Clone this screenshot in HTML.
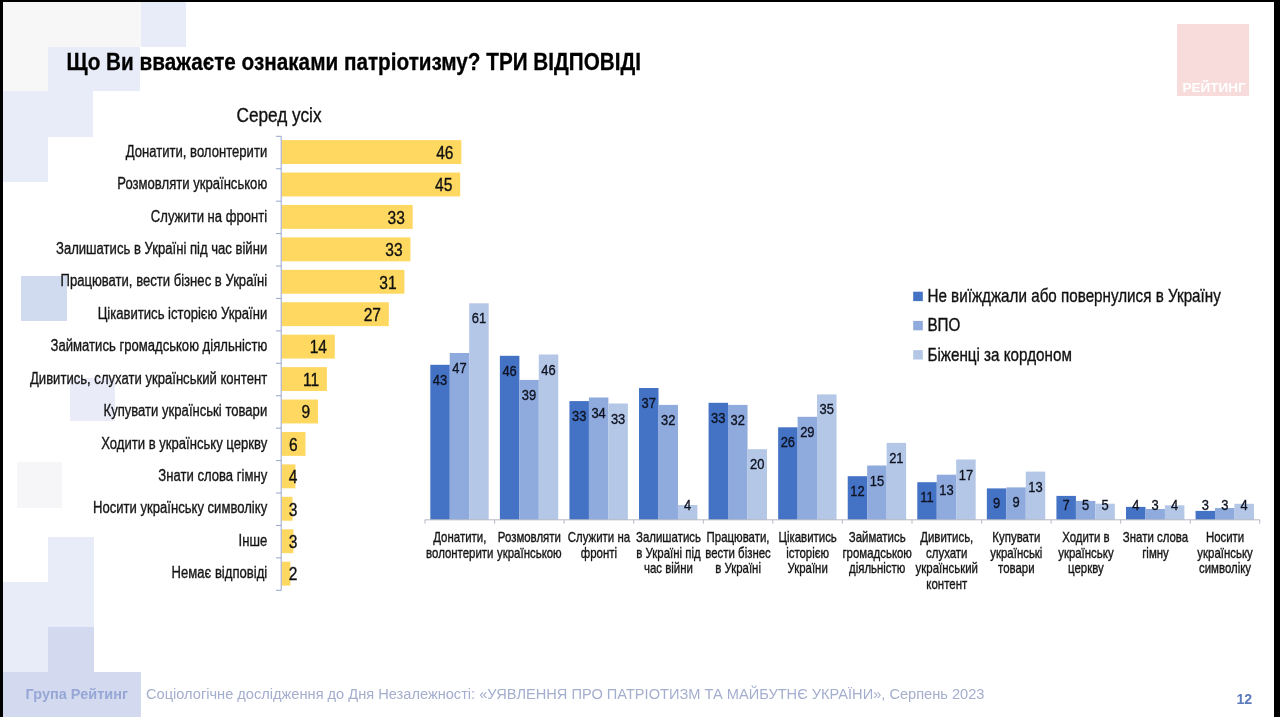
<!DOCTYPE html>
<html lang="uk"><head><meta charset="utf-8"><title>Що Ви вважаєте ознаками патріотизму?</title>
<style>html,body{margin:0;padding:0;background:#fff;}body{width:1280px;height:717px;overflow:hidden;}svg{display:block;font-family:"Liberation Sans",sans-serif;will-change:transform;}</style></head><body>
<svg width="1280" height="717" viewBox="0 0 1280 717">
<rect x="0" y="0" width="1280" height="717" fill="#ffffff"/>
<g shape-rendering="crispEdges">
<rect x="3" y="2" width="137.5" height="45" fill="#f7f7f8"/>
<rect x="3" y="47" width="45" height="44" fill="#f7f7f8"/>
<rect x="140.5" y="2" width="45" height="45" fill="#e8ecf8"/>
<rect x="48" y="47" width="92" height="44" fill="#e8ecf8"/>
<rect x="3" y="91" width="90" height="46" fill="#e8ecf8"/>
<rect x="3" y="137" width="45" height="45" fill="#e8ecf8"/>
<rect x="21" y="276" width="46" height="45" fill="#d0dbf0"/>
<rect x="70" y="378" width="45" height="43" fill="#e9ecf8"/>
<rect x="17" y="462" width="45" height="46" fill="#f6f5f8"/>
<rect x="48" y="537" width="46" height="90" fill="#e8ecf8"/>
<rect x="3" y="582" width="45" height="90" fill="#e8ecf8"/>
<rect x="48" y="627" width="46" height="90" fill="#d3daf0"/>
<rect x="3" y="672" width="137.6" height="45" fill="#d3daf0"/>
</g>
<rect x="1177" y="24" width="72" height="72" fill="#f8dcdc"/>
<text transform="translate(1214.00,91.50) scale(1.0,1)" font-size="13.5" text-anchor="middle" fill="#ffffff" font-weight="bold">РЕЙТИНГ</text>
<text transform="translate(66.60,70.00) scale(0.8635,1)" font-size="24" text-anchor="start" fill="#000" font-weight="bold" stroke="#000" stroke-width="0.3">Що Ви вважаєте ознаками патріотизму? ТРИ ВІДПОВІДІ</text>
<text transform="translate(279.00,122.30) scale(0.861,1)" font-size="20" text-anchor="middle" fill="#111" font-weight="normal" stroke="#111" stroke-width="0.35">Серед усіх</text>
<g>
<rect x="281.7" y="140.10" width="179.6" height="23.9" fill="#ffd862"/>
<rect x="281.7" y="172.53" width="178.5" height="23.9" fill="#ffd862"/>
<rect x="281.7" y="204.96" width="131.0" height="23.9" fill="#ffd862"/>
<rect x="281.7" y="237.39" width="128.7" height="23.9" fill="#ffd862"/>
<rect x="281.7" y="269.82" width="122.7" height="23.9" fill="#ffd862"/>
<rect x="281.7" y="302.25" width="107.1" height="23.9" fill="#ffd862"/>
<rect x="281.7" y="334.68" width="53.1" height="23.9" fill="#ffd862"/>
<rect x="281.7" y="367.11" width="45.2" height="23.9" fill="#ffd862"/>
<rect x="281.7" y="399.54" width="36.3" height="23.9" fill="#ffd862"/>
<rect x="281.7" y="431.97" width="23.8" height="23.9" fill="#ffd862"/>
<rect x="281.7" y="464.40" width="13.7" height="23.9" fill="#ffd862"/>
<rect x="281.7" y="496.83" width="10.8" height="23.9" fill="#ffd862"/>
<rect x="281.7" y="529.26" width="11.7" height="23.9" fill="#ffd862"/>
<rect x="281.7" y="561.69" width="8.7" height="23.9" fill="#ffd862"/>
</g>
<g stroke="#98a5cd" stroke-width="1" fill="none">
<path d="M281.2 136.2V590.4"/>
<path d="M276.0 136.30H281.2"/>
<path d="M276.0 168.73H281.2"/>
<path d="M276.0 201.16H281.2"/>
<path d="M276.0 233.59H281.2"/>
<path d="M276.0 266.02H281.2"/>
<path d="M276.0 298.45H281.2"/>
<path d="M276.0 330.88H281.2"/>
<path d="M276.0 363.31H281.2"/>
<path d="M276.0 395.74H281.2"/>
<path d="M276.0 428.17H281.2"/>
<path d="M276.0 460.60H281.2"/>
<path d="M276.0 493.03H281.2"/>
<path d="M276.0 525.46H281.2"/>
<path d="M276.0 557.89H281.2"/>
<path d="M276.0 590.32H281.2"/>
</g>
<text transform="translate(267.20,156.70) scale(0.84,1)" font-size="15.6" text-anchor="end" fill="#161616" font-weight="normal" stroke="#161616" stroke-width="0.35">Донатити, волонтерити</text>
<text transform="translate(453.50,158.80) scale(0.85,1)" font-size="18.3" text-anchor="end" fill="#111" font-weight="normal" stroke="#111" stroke-width="0.35">46</text>
<text transform="translate(267.20,189.13) scale(0.84,1)" font-size="15.6" text-anchor="end" fill="#161616" font-weight="normal" stroke="#161616" stroke-width="0.35">Розмовляти українською</text>
<text transform="translate(452.40,191.23) scale(0.85,1)" font-size="18.3" text-anchor="end" fill="#111" font-weight="normal" stroke="#111" stroke-width="0.35">45</text>
<text transform="translate(267.20,221.56) scale(0.84,1)" font-size="15.6" text-anchor="end" fill="#161616" font-weight="normal" stroke="#161616" stroke-width="0.35">Служити на фронті</text>
<text transform="translate(404.90,223.66) scale(0.85,1)" font-size="18.3" text-anchor="end" fill="#111" font-weight="normal" stroke="#111" stroke-width="0.35">33</text>
<text transform="translate(267.20,253.99) scale(0.84,1)" font-size="15.6" text-anchor="end" fill="#161616" font-weight="normal" stroke="#161616" stroke-width="0.35">Залишатись в Україні під час війни</text>
<text transform="translate(402.60,256.09) scale(0.85,1)" font-size="18.3" text-anchor="end" fill="#111" font-weight="normal" stroke="#111" stroke-width="0.35">33</text>
<text transform="translate(267.20,286.42) scale(0.84,1)" font-size="15.6" text-anchor="end" fill="#161616" font-weight="normal" stroke="#161616" stroke-width="0.35">Працювати, вести бізнес в Україні</text>
<text transform="translate(396.60,288.52) scale(0.85,1)" font-size="18.3" text-anchor="end" fill="#111" font-weight="normal" stroke="#111" stroke-width="0.35">31</text>
<text transform="translate(267.20,318.85) scale(0.84,1)" font-size="15.6" text-anchor="end" fill="#161616" font-weight="normal" stroke="#161616" stroke-width="0.35">Цікавитись історією України</text>
<text transform="translate(381.00,320.95) scale(0.85,1)" font-size="18.3" text-anchor="end" fill="#111" font-weight="normal" stroke="#111" stroke-width="0.35">27</text>
<text transform="translate(267.20,351.28) scale(0.84,1)" font-size="15.6" text-anchor="end" fill="#161616" font-weight="normal" stroke="#161616" stroke-width="0.35">Займатись громадською діяльністю</text>
<text transform="translate(327.00,353.38) scale(0.85,1)" font-size="18.3" text-anchor="end" fill="#111" font-weight="normal" stroke="#111" stroke-width="0.35">14</text>
<text transform="translate(267.20,383.71) scale(0.84,1)" font-size="15.6" text-anchor="end" fill="#161616" font-weight="normal" stroke="#161616" stroke-width="0.35">Дивитись, слухати український контент</text>
<text transform="translate(319.10,385.81) scale(0.85,1)" font-size="18.3" text-anchor="end" fill="#111" font-weight="normal" stroke="#111" stroke-width="0.35">11</text>
<text transform="translate(267.20,416.14) scale(0.84,1)" font-size="15.6" text-anchor="end" fill="#161616" font-weight="normal" stroke="#161616" stroke-width="0.35">Купувати українські товари</text>
<text transform="translate(310.20,418.24) scale(0.85,1)" font-size="18.3" text-anchor="end" fill="#111" font-weight="normal" stroke="#111" stroke-width="0.35">9</text>
<text transform="translate(267.20,448.57) scale(0.84,1)" font-size="15.6" text-anchor="end" fill="#161616" font-weight="normal" stroke="#161616" stroke-width="0.35">Ходити в українську церкву</text>
<text transform="translate(297.70,450.67) scale(0.85,1)" font-size="18.3" text-anchor="end" fill="#111" font-weight="normal" stroke="#111" stroke-width="0.35">6</text>
<text transform="translate(267.20,481.00) scale(0.84,1)" font-size="15.6" text-anchor="end" fill="#161616" font-weight="normal" stroke="#161616" stroke-width="0.35">Знати слова гімну</text>
<text transform="translate(297.40,483.10) scale(0.85,1)" font-size="18.3" text-anchor="end" fill="#111" font-weight="normal" stroke="#111" stroke-width="0.35">4</text>
<text transform="translate(267.20,513.43) scale(0.84,1)" font-size="15.6" text-anchor="end" fill="#161616" font-weight="normal" stroke="#161616" stroke-width="0.35">Носити українську символіку</text>
<text transform="translate(297.40,515.53) scale(0.85,1)" font-size="18.3" text-anchor="end" fill="#111" font-weight="normal" stroke="#111" stroke-width="0.35">3</text>
<text transform="translate(267.20,545.86) scale(0.84,1)" font-size="15.6" text-anchor="end" fill="#161616" font-weight="normal" stroke="#161616" stroke-width="0.35">Інше</text>
<text transform="translate(297.40,547.96) scale(0.85,1)" font-size="18.3" text-anchor="end" fill="#111" font-weight="normal" stroke="#111" stroke-width="0.35">3</text>
<text transform="translate(267.20,578.29) scale(0.84,1)" font-size="15.6" text-anchor="end" fill="#161616" font-weight="normal" stroke="#161616" stroke-width="0.35">Немає відповіді</text>
<text transform="translate(297.40,580.39) scale(0.85,1)" font-size="18.3" text-anchor="end" fill="#111" font-weight="normal" stroke="#111" stroke-width="0.35">2</text>
<g>
<rect x="430.30" y="364.8" width="19.50" height="155.0" fill="#4472c4"/>
<rect x="449.75" y="353.0" width="19.50" height="166.8" fill="#8faadc"/>
<rect x="469.20" y="303.3" width="19.50" height="216.5" fill="#b4c7e7"/>
<rect x="499.87" y="355.8" width="19.50" height="164.0" fill="#4472c4"/>
<rect x="519.32" y="379.9" width="19.50" height="139.9" fill="#8faadc"/>
<rect x="538.77" y="354.5" width="19.50" height="165.3" fill="#b4c7e7"/>
<rect x="569.44" y="401.1" width="19.50" height="118.7" fill="#4472c4"/>
<rect x="588.89" y="397.5" width="19.50" height="122.3" fill="#8faadc"/>
<rect x="608.34" y="403.5" width="19.50" height="116.3" fill="#b4c7e7"/>
<rect x="639.01" y="388.0" width="19.50" height="131.8" fill="#4472c4"/>
<rect x="658.46" y="404.9" width="19.50" height="114.9" fill="#8faadc"/>
<rect x="677.91" y="505.0" width="19.50" height="14.8" fill="#b4c7e7"/>
<rect x="708.58" y="402.8" width="19.50" height="117.0" fill="#4472c4"/>
<rect x="728.03" y="404.9" width="19.50" height="114.9" fill="#8faadc"/>
<rect x="747.48" y="449.2" width="19.50" height="70.6" fill="#b4c7e7"/>
<rect x="778.15" y="427.3" width="19.50" height="92.5" fill="#4472c4"/>
<rect x="797.60" y="416.8" width="19.50" height="103.0" fill="#8faadc"/>
<rect x="817.05" y="394.4" width="19.50" height="125.4" fill="#b4c7e7"/>
<rect x="847.72" y="476.2" width="19.50" height="43.6" fill="#4472c4"/>
<rect x="867.17" y="465.5" width="19.50" height="54.3" fill="#8faadc"/>
<rect x="886.62" y="442.9" width="19.50" height="76.9" fill="#b4c7e7"/>
<rect x="917.29" y="482.2" width="19.50" height="37.6" fill="#4472c4"/>
<rect x="936.74" y="474.7" width="19.50" height="45.1" fill="#8faadc"/>
<rect x="956.19" y="459.5" width="19.50" height="60.3" fill="#b4c7e7"/>
<rect x="986.86" y="488.4" width="19.50" height="31.4" fill="#4472c4"/>
<rect x="1006.31" y="487.4" width="19.50" height="32.4" fill="#8faadc"/>
<rect x="1025.76" y="471.6" width="19.50" height="48.2" fill="#b4c7e7"/>
<rect x="1056.43" y="495.9" width="19.50" height="23.9" fill="#4472c4"/>
<rect x="1075.88" y="500.9" width="19.50" height="18.9" fill="#8faadc"/>
<rect x="1095.33" y="503.7" width="19.50" height="16.1" fill="#b4c7e7"/>
<rect x="1126.00" y="506.9" width="19.50" height="12.9" fill="#4472c4"/>
<rect x="1145.45" y="509.0" width="19.50" height="10.8" fill="#8faadc"/>
<rect x="1164.90" y="505.3" width="19.50" height="14.5" fill="#b4c7e7"/>
<rect x="1195.57" y="510.9" width="19.50" height="8.9" fill="#4472c4"/>
<rect x="1215.02" y="508.0" width="19.50" height="11.8" fill="#8faadc"/>
<rect x="1234.47" y="503.8" width="19.50" height="16.0" fill="#b4c7e7"/>
</g>
<g stroke="#b4b8c4" stroke-width="1" fill="none">
<path d="M424.8 519.8H1259.8"/>
<path d="M425.0 519.8V523.6"/>
<path d="M494.6 519.8V523.6"/>
<path d="M564.1 519.8V523.6"/>
<path d="M633.7 519.8V523.6"/>
<path d="M703.3 519.8V523.6"/>
<path d="M772.8 519.8V523.6"/>
<path d="M842.4 519.8V523.6"/>
<path d="M912.0 519.8V523.6"/>
<path d="M981.6 519.8V523.6"/>
<path d="M1051.1 519.8V523.6"/>
<path d="M1120.7 519.8V523.6"/>
<path d="M1190.3 519.8V523.6"/>
<path d="M1259.8 519.8V523.6"/>
</g>
<text transform="translate(440.03,384.80) scale(0.85,1)" font-size="15.2" text-anchor="middle" fill="#0e1220" font-weight="normal" stroke="#0e1220" stroke-width="0.35">43</text>
<text transform="translate(459.48,373.00) scale(0.85,1)" font-size="15.2" text-anchor="middle" fill="#0e1220" font-weight="normal" stroke="#0e1220" stroke-width="0.35">47</text>
<text transform="translate(478.93,323.30) scale(0.85,1)" font-size="15.2" text-anchor="middle" fill="#0e1220" font-weight="normal" stroke="#0e1220" stroke-width="0.35">61</text>
<text transform="translate(459.78,541.90) scale(0.818,1)" font-size="14" text-anchor="middle" fill="#161616" font-weight="normal" stroke="#161616" stroke-width="0.35">Донатити,</text>
<text transform="translate(459.78,557.60) scale(0.818,1)" font-size="14" text-anchor="middle" fill="#161616" font-weight="normal" stroke="#161616" stroke-width="0.35">волонтерити</text>
<text transform="translate(509.60,375.80) scale(0.85,1)" font-size="15.2" text-anchor="middle" fill="#0e1220" font-weight="normal" stroke="#0e1220" stroke-width="0.35">46</text>
<text transform="translate(529.05,399.90) scale(0.85,1)" font-size="15.2" text-anchor="middle" fill="#0e1220" font-weight="normal" stroke="#0e1220" stroke-width="0.35">39</text>
<text transform="translate(548.50,374.50) scale(0.85,1)" font-size="15.2" text-anchor="middle" fill="#0e1220" font-weight="normal" stroke="#0e1220" stroke-width="0.35">46</text>
<text transform="translate(529.36,541.90) scale(0.818,1)" font-size="14" text-anchor="middle" fill="#161616" font-weight="normal" stroke="#161616" stroke-width="0.35">Розмовляти</text>
<text transform="translate(529.36,557.60) scale(0.818,1)" font-size="14" text-anchor="middle" fill="#161616" font-weight="normal" stroke="#161616" stroke-width="0.35">українською</text>
<text transform="translate(579.17,421.10) scale(0.85,1)" font-size="15.2" text-anchor="middle" fill="#0e1220" font-weight="normal" stroke="#0e1220" stroke-width="0.35">33</text>
<text transform="translate(598.62,417.50) scale(0.85,1)" font-size="15.2" text-anchor="middle" fill="#0e1220" font-weight="normal" stroke="#0e1220" stroke-width="0.35">34</text>
<text transform="translate(618.07,423.50) scale(0.85,1)" font-size="15.2" text-anchor="middle" fill="#0e1220" font-weight="normal" stroke="#0e1220" stroke-width="0.35">33</text>
<text transform="translate(598.92,541.90) scale(0.818,1)" font-size="14" text-anchor="middle" fill="#161616" font-weight="normal" stroke="#161616" stroke-width="0.35">Служити на</text>
<text transform="translate(598.92,557.60) scale(0.818,1)" font-size="14" text-anchor="middle" fill="#161616" font-weight="normal" stroke="#161616" stroke-width="0.35">фронті</text>
<text transform="translate(648.74,408.00) scale(0.85,1)" font-size="15.2" text-anchor="middle" fill="#0e1220" font-weight="normal" stroke="#0e1220" stroke-width="0.35">37</text>
<text transform="translate(668.19,424.90) scale(0.85,1)" font-size="15.2" text-anchor="middle" fill="#0e1220" font-weight="normal" stroke="#0e1220" stroke-width="0.35">32</text>
<text transform="translate(687.63,509.90) scale(0.85,1)" font-size="15.2" text-anchor="middle" fill="#0e1220" font-weight="normal" stroke="#0e1220" stroke-width="0.35">4</text>
<text transform="translate(668.50,541.90) scale(0.818,1)" font-size="14" text-anchor="middle" fill="#161616" font-weight="normal" stroke="#161616" stroke-width="0.35">Залишатись</text>
<text transform="translate(668.50,557.60) scale(0.818,1)" font-size="14" text-anchor="middle" fill="#161616" font-weight="normal" stroke="#161616" stroke-width="0.35">в Україні під</text>
<text transform="translate(668.50,573.30) scale(0.818,1)" font-size="14" text-anchor="middle" fill="#161616" font-weight="normal" stroke="#161616" stroke-width="0.35">час війни</text>
<text transform="translate(718.30,422.80) scale(0.85,1)" font-size="15.2" text-anchor="middle" fill="#0e1220" font-weight="normal" stroke="#0e1220" stroke-width="0.35">33</text>
<text transform="translate(737.75,424.90) scale(0.85,1)" font-size="15.2" text-anchor="middle" fill="#0e1220" font-weight="normal" stroke="#0e1220" stroke-width="0.35">32</text>
<text transform="translate(757.20,469.20) scale(0.85,1)" font-size="15.2" text-anchor="middle" fill="#0e1220" font-weight="normal" stroke="#0e1220" stroke-width="0.35">20</text>
<text transform="translate(738.06,541.90) scale(0.818,1)" font-size="14" text-anchor="middle" fill="#161616" font-weight="normal" stroke="#161616" stroke-width="0.35">Працювати,</text>
<text transform="translate(738.06,557.60) scale(0.818,1)" font-size="14" text-anchor="middle" fill="#161616" font-weight="normal" stroke="#161616" stroke-width="0.35">вести бізнес</text>
<text transform="translate(738.06,573.30) scale(0.818,1)" font-size="14" text-anchor="middle" fill="#161616" font-weight="normal" stroke="#161616" stroke-width="0.35">в Україні</text>
<text transform="translate(787.88,447.30) scale(0.85,1)" font-size="15.2" text-anchor="middle" fill="#0e1220" font-weight="normal" stroke="#0e1220" stroke-width="0.35">26</text>
<text transform="translate(807.33,436.80) scale(0.85,1)" font-size="15.2" text-anchor="middle" fill="#0e1220" font-weight="normal" stroke="#0e1220" stroke-width="0.35">29</text>
<text transform="translate(826.77,414.40) scale(0.85,1)" font-size="15.2" text-anchor="middle" fill="#0e1220" font-weight="normal" stroke="#0e1220" stroke-width="0.35">35</text>
<text transform="translate(807.63,541.90) scale(0.818,1)" font-size="14" text-anchor="middle" fill="#161616" font-weight="normal" stroke="#161616" stroke-width="0.35">Цікавитись</text>
<text transform="translate(807.63,557.60) scale(0.818,1)" font-size="14" text-anchor="middle" fill="#161616" font-weight="normal" stroke="#161616" stroke-width="0.35">історією</text>
<text transform="translate(807.63,573.30) scale(0.818,1)" font-size="14" text-anchor="middle" fill="#161616" font-weight="normal" stroke="#161616" stroke-width="0.35">України</text>
<text transform="translate(857.45,496.20) scale(0.85,1)" font-size="15.2" text-anchor="middle" fill="#0e1220" font-weight="normal" stroke="#0e1220" stroke-width="0.35">12</text>
<text transform="translate(876.90,485.50) scale(0.85,1)" font-size="15.2" text-anchor="middle" fill="#0e1220" font-weight="normal" stroke="#0e1220" stroke-width="0.35">15</text>
<text transform="translate(896.35,462.90) scale(0.85,1)" font-size="15.2" text-anchor="middle" fill="#0e1220" font-weight="normal" stroke="#0e1220" stroke-width="0.35">21</text>
<text transform="translate(877.20,541.90) scale(0.818,1)" font-size="14" text-anchor="middle" fill="#161616" font-weight="normal" stroke="#161616" stroke-width="0.35">Займатись</text>
<text transform="translate(877.20,557.60) scale(0.818,1)" font-size="14" text-anchor="middle" fill="#161616" font-weight="normal" stroke="#161616" stroke-width="0.35">громадською</text>
<text transform="translate(877.20,573.30) scale(0.818,1)" font-size="14" text-anchor="middle" fill="#161616" font-weight="normal" stroke="#161616" stroke-width="0.35">діяльністю</text>
<text transform="translate(927.01,502.20) scale(0.85,1)" font-size="15.2" text-anchor="middle" fill="#0e1220" font-weight="normal" stroke="#0e1220" stroke-width="0.35">11</text>
<text transform="translate(946.47,494.70) scale(0.85,1)" font-size="15.2" text-anchor="middle" fill="#0e1220" font-weight="normal" stroke="#0e1220" stroke-width="0.35">13</text>
<text transform="translate(965.91,479.50) scale(0.85,1)" font-size="15.2" text-anchor="middle" fill="#0e1220" font-weight="normal" stroke="#0e1220" stroke-width="0.35">17</text>
<text transform="translate(946.77,541.90) scale(0.818,1)" font-size="14" text-anchor="middle" fill="#161616" font-weight="normal" stroke="#161616" stroke-width="0.35">Дивитись,</text>
<text transform="translate(946.77,557.60) scale(0.818,1)" font-size="14" text-anchor="middle" fill="#161616" font-weight="normal" stroke="#161616" stroke-width="0.35">слухати</text>
<text transform="translate(946.77,573.30) scale(0.818,1)" font-size="14" text-anchor="middle" fill="#161616" font-weight="normal" stroke="#161616" stroke-width="0.35">український</text>
<text transform="translate(946.77,589.00) scale(0.818,1)" font-size="14" text-anchor="middle" fill="#161616" font-weight="normal" stroke="#161616" stroke-width="0.35">контент</text>
<text transform="translate(996.58,508.40) scale(0.85,1)" font-size="15.2" text-anchor="middle" fill="#0e1220" font-weight="normal" stroke="#0e1220" stroke-width="0.35">9</text>
<text transform="translate(1016.03,507.40) scale(0.85,1)" font-size="15.2" text-anchor="middle" fill="#0e1220" font-weight="normal" stroke="#0e1220" stroke-width="0.35">9</text>
<text transform="translate(1035.48,491.60) scale(0.85,1)" font-size="15.2" text-anchor="middle" fill="#0e1220" font-weight="normal" stroke="#0e1220" stroke-width="0.35">13</text>
<text transform="translate(1016.34,541.90) scale(0.818,1)" font-size="14" text-anchor="middle" fill="#161616" font-weight="normal" stroke="#161616" stroke-width="0.35">Купувати</text>
<text transform="translate(1016.34,557.60) scale(0.818,1)" font-size="14" text-anchor="middle" fill="#161616" font-weight="normal" stroke="#161616" stroke-width="0.35">українські</text>
<text transform="translate(1016.34,573.30) scale(0.818,1)" font-size="14" text-anchor="middle" fill="#161616" font-weight="normal" stroke="#161616" stroke-width="0.35">товари</text>
<text transform="translate(1066.15,509.90) scale(0.85,1)" font-size="15.2" text-anchor="middle" fill="#0e1220" font-weight="normal" stroke="#0e1220" stroke-width="0.35">7</text>
<text transform="translate(1085.60,509.90) scale(0.85,1)" font-size="15.2" text-anchor="middle" fill="#0e1220" font-weight="normal" stroke="#0e1220" stroke-width="0.35">5</text>
<text transform="translate(1105.05,509.90) scale(0.85,1)" font-size="15.2" text-anchor="middle" fill="#0e1220" font-weight="normal" stroke="#0e1220" stroke-width="0.35">5</text>
<text transform="translate(1085.91,541.90) scale(0.818,1)" font-size="14" text-anchor="middle" fill="#161616" font-weight="normal" stroke="#161616" stroke-width="0.35">Ходити в</text>
<text transform="translate(1085.91,557.60) scale(0.818,1)" font-size="14" text-anchor="middle" fill="#161616" font-weight="normal" stroke="#161616" stroke-width="0.35">українську</text>
<text transform="translate(1085.91,573.30) scale(0.818,1)" font-size="14" text-anchor="middle" fill="#161616" font-weight="normal" stroke="#161616" stroke-width="0.35">церкву</text>
<text transform="translate(1135.72,509.90) scale(0.85,1)" font-size="15.2" text-anchor="middle" fill="#0e1220" font-weight="normal" stroke="#0e1220" stroke-width="0.35">4</text>
<text transform="translate(1155.17,509.90) scale(0.85,1)" font-size="15.2" text-anchor="middle" fill="#0e1220" font-weight="normal" stroke="#0e1220" stroke-width="0.35">3</text>
<text transform="translate(1174.62,509.90) scale(0.85,1)" font-size="15.2" text-anchor="middle" fill="#0e1220" font-weight="normal" stroke="#0e1220" stroke-width="0.35">4</text>
<text transform="translate(1155.48,541.90) scale(0.818,1)" font-size="14" text-anchor="middle" fill="#161616" font-weight="normal" stroke="#161616" stroke-width="0.35">Знати слова</text>
<text transform="translate(1155.48,557.60) scale(0.818,1)" font-size="14" text-anchor="middle" fill="#161616" font-weight="normal" stroke="#161616" stroke-width="0.35">гімну</text>
<text transform="translate(1205.29,509.90) scale(0.85,1)" font-size="15.2" text-anchor="middle" fill="#0e1220" font-weight="normal" stroke="#0e1220" stroke-width="0.35">3</text>
<text transform="translate(1224.74,509.90) scale(0.85,1)" font-size="15.2" text-anchor="middle" fill="#0e1220" font-weight="normal" stroke="#0e1220" stroke-width="0.35">3</text>
<text transform="translate(1244.19,509.90) scale(0.85,1)" font-size="15.2" text-anchor="middle" fill="#0e1220" font-weight="normal" stroke="#0e1220" stroke-width="0.35">4</text>
<text transform="translate(1225.06,541.90) scale(0.818,1)" font-size="14" text-anchor="middle" fill="#161616" font-weight="normal" stroke="#161616" stroke-width="0.35">Носити</text>
<text transform="translate(1225.06,557.60) scale(0.818,1)" font-size="14" text-anchor="middle" fill="#161616" font-weight="normal" stroke="#161616" stroke-width="0.35">українську</text>
<text transform="translate(1225.06,573.30) scale(0.818,1)" font-size="14" text-anchor="middle" fill="#161616" font-weight="normal" stroke="#161616" stroke-width="0.35">символіку</text>
<rect x="913.2" y="291.7" width="9.6" height="9.4" fill="#4472c4"/>
<text transform="translate(927.40,301.90) scale(0.8365,1)" font-size="18.2" text-anchor="start" fill="#111" font-weight="normal" stroke="#111" stroke-width="0.35">Не виїжджали або повернулися в Україну</text>
<rect x="913.2" y="320.9" width="9.6" height="9.4" fill="#8faadc"/>
<text transform="translate(927.40,331.20) scale(0.8365,1)" font-size="18.2" text-anchor="start" fill="#111" font-weight="normal" stroke="#111" stroke-width="0.35">ВПО</text>
<rect x="913.2" y="350.1" width="9.6" height="9.4" fill="#b4c7e7"/>
<text transform="translate(927.40,360.50) scale(0.8365,1)" font-size="18.2" text-anchor="start" fill="#111" font-weight="normal" stroke="#111" stroke-width="0.35">Біженці за кордоном</text>
<text transform="translate(25.60,698.50) scale(1.0,1)" font-size="14.5" text-anchor="start" fill="#97a7d5" font-weight="bold">Група Рейтинг</text>
<text transform="translate(146.00,698.50) scale(1.0,1)" font-size="14.62" text-anchor="start" fill="#a4aece" font-weight="normal">Соціологічне дослідження до Дня Незалежності: «УЯВЛЕННЯ ПРО ПАТРІОТИЗМ ТА МАЙБУТНЄ УКРАЇНИ», Серпень 2023</text>
<text transform="translate(1244.30,703.70) scale(1.0,1)" font-size="14.2" text-anchor="middle" fill="#5b7bbd" font-weight="bold">12</text>
<g shape-rendering="crispEdges" fill="#000">
<rect x="0" y="0" width="1280" height="2"/>
<rect x="0" y="0" width="3" height="717"/>
<rect x="1274" y="0" width="6" height="717"/>
</g>
</svg></body></html>
